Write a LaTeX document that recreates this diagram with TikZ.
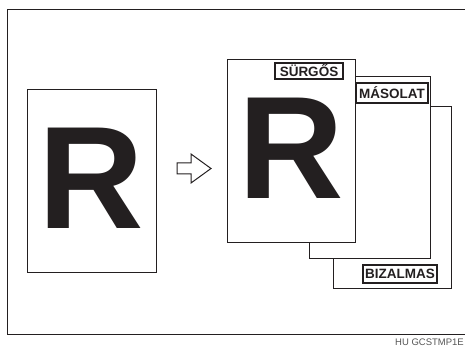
\documentclass[tikz,border=0pt]{standalone}
\usepackage{fontspec}
\setmainfont{Liberation Sans}
\usepackage{tikz}
\usetikzlibrary{positioning}
\definecolor{ink}{HTML}{231F20}
\definecolor{codegray}{HTML}{555555}

\begin{document}
\begin{tikzpicture}[
    x=1pt, y=-1pt,
    sheet/.style={rectangle, draw=ink, fill=white, line width=1pt, inner sep=0pt},
    stamp/.style={rectangle, draw=ink, fill=white, line width=1.2pt, inner sep=0pt, font=\fontsize{13.5}{13.5}\selectfont\bfseries, text=ink},
    bigR/.style={inner sep=0pt, font=\fontsize{146}{146}\selectfont\bfseries, text=ink}
]
    \useasboundingbox (0,0) rectangle (465,347);

    % Frame
    \draw[ink, line width=1pt] (480,10) -- (7,10) -- (7,334) -- (480,334);

    % Original
    \node[sheet, minimum width=129, minimum height=182] (orig) at (91.5,181) {};
    \node[bigR] (origR) at (91.5,178.5) {R};

    % Arrow
    \coordinate (arr) at (177,169);
    \draw[ink, line width=1pt, line join=miter] (arr) ++(0,-6) -- ++(14,0) -- ++(0,-9) -- ++(20,14.5) -- ++(-20,14.5) -- ++(0,-9) -- ++(-14,0) -- cycle;

    % Stamped copies
    \node[sheet, minimum width=118, minimum height=181] (bizalmas) at (392,197.5) {};
    \node[sheet, minimum width=121, minimum height=181] (masolat) at (369.5,167.5) {};
    \node[sheet, minimum width=128, minimum height=182] (surgos) at (291,151) {};
    \node[bigR] (surgosR) at (291.5,148) {R};

    % Stamps
    \node[stamp, minimum width=68, minimum height=16] (stampS) at (309,71) {SÜRGŐS};
    \node[stamp, minimum width=72, minimum height=20] (stampM) at (392,93) {MÁSOLAT};
    \node[stamp, minimum width=74, minimum height=18] (stampB) at (400,274) {BIZALMAS};

    % Code
    \node[anchor=base east, inner sep=0pt, font=\fontsize{9.5}{9.5}\selectfont, text=codegray] (code) at (464,345.5) {HU GCSTMP1E};

\end{tikzpicture}
\end{document}
